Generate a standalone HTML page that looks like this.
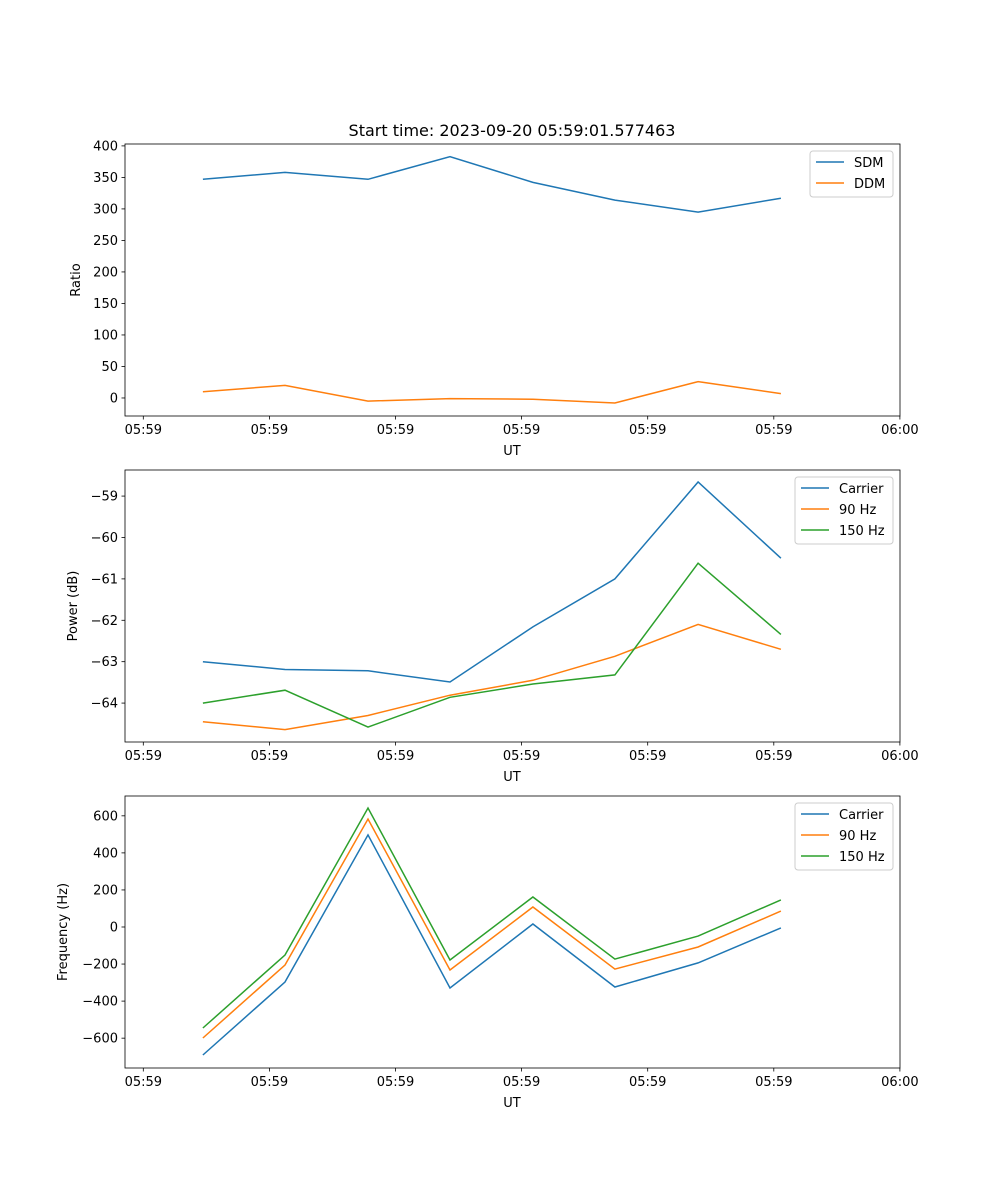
<!DOCTYPE html>
<html><head><meta charset="utf-8"><style>
body{margin:0;background:#fff}
svg{display:block;font-family:"DejaVu Sans","Liberation Sans",sans-serif}
</style></head><body>
<svg id="fig" width="1000" height="1200" viewBox="0 0 1000 1200" xmlns="http://www.w3.org/2000/svg">
<rect width="1000" height="1200" fill="#fff"/>
<text x="512" y="136" font-size="16" text-anchor="middle">Start time: 2023-09-20 05:59:01.577463</text>
</svg>
<script>
const times=[0.473,1.124,1.782,2.432,3.09,3.74,4.40,5.056];
const xTickLabels=["05:59","05:59","05:59","05:59","05:59","05:59","06:00"];
const sdm=[347,358,347,383,342,314,295,317];
const ddm=[10,20,-5,-1,-2,-8,26,7];
const pCarrier=[-63.0,-63.19,-63.22,-63.49,-62.16,-61.0,-58.66,-60.5];
const p90=[-64.45,-64.64,-64.3,-63.81,-63.45,-62.87,-62.1,-62.7];
const p150=[-64.0,-63.69,-64.58,-63.86,-63.54,-63.32,-60.62,-62.34];
const fCarrier=[-691,-297,497,-329,16,-324,-194,-5];
const f90=[-599,-205,583,-232,108,-227,-108,86];
const f150=[-545,-151,642,-178,162,-173,-49,146];
const yTicks1=[0,50,100,150,200,250,300,350,400];
const yTicks2=[-64,-63,-62,-61,-60,-59];
const yTicks3=[-600,-400,-200,0,200,400,600];
const C=["#1f77b4","#ff7f0e","#2ca02c"];
const svg=document.getElementById('fig');
const NS="http://www.w3.org/2000/svg";
function mk(t,a,p){const e=document.createElementNS(NS,t);for(const k in a)e.setAttribute(k,a[k]);(p||svg).appendChild(e);return e;}
const L=125,R=900;
const xs=t=>143.3+126.1*t;
function panel(idx,top,ymin,ymax,yticks,ylabel,series,names,legW,legX){
  const bot=top+272;
  const g=mk('g',{});
  
  
  const ys=v=>bot-(v-ymin)/(ymax-ymin)*272;
  series.forEach((s,i)=>{
    const pts=s.map((v,j)=>xs(times[j]).toFixed(1)+','+ys(v).toFixed(1)).join(' ');
    const pl=mk('polyline',{points:pts,fill:'none',stroke:C[i],'stroke-width':1.5},g);
    
    
  });
  mk('rect',{x:L,y:top,width:R-L,height:272,fill:'none',stroke:'#000','stroke-width':0.8},g);
  xTickLabels.forEach((lb,i)=>{
    const x=xs(i);
    mk('line',{x1:x,x2:x,y1:bot,y2:bot+3.5,stroke:'#000','stroke-width':0.8},g);
    const t=mk('text',{x:x,y:bot+18,'font-size':13,'text-anchor':'middle'},g);t.textContent=lb;
    
    
  });
  yticks.forEach(v=>{
    const y=ys(v);
    mk('line',{x1:L-3.5,x2:L,y1:y,y2:y,stroke:'#000','stroke-width':0.8},g);
    const t=mk('text',{x:L-7,y:y+4.5,'font-size':13,'text-anchor':'end'},g);t.textContent=(v<0?'\u2212'+(-v):v);
    
    
  });
  const xl=mk('text',{x:512,y:bot+39,'font-size':13,'text-anchor':'middle'},g);xl.textContent='UT';
  
  
  const yc=(top+bot)/2;
  const yl=mk('text',{x:0,y:0,'font-size':13,'text-anchor':'middle',transform:`translate(${idx==1?80:(idx==2?77:67)},${yc}) rotate(-90)`},g);yl.textContent=ylabel;
  
  
  const lg=mk('g',{},g);
  
  
  const lh=4+names.length*21;
  mk('rect',{x:legX,y:top+7,width:legW,height:lh,rx:3,fill:'#fff',stroke:'#ccc','stroke-width':1},lg);
  names.forEach((n,i)=>{
    const y=top+18+i*21;
    mk('line',{x1:legX+6,x2:legX+34,y1:y,y2:y,stroke:C[i],'stroke-width':1.5},lg);
    const t=mk('text',{x:legX+44,y:y+5,'font-size':13},lg);t.textContent=n;
    
    
  });
}
panel(1,144,-28.6,403,yTicks1,'Ratio',[sdm,ddm],['SDM','DDM'],83,810);
panel(2,470,-64.94,-58.37,yTicks2,'Power (dB)',[pCarrier,p90,p150],['Carrier','90 Hz','150 Hz'],98,795);
panel(3,796,-761,707,yTicks3,'Frequency (Hz)',[fCarrier,f90,f150],['Carrier','90 Hz','150 Hz'],98,795);
</script>
</body></html>
